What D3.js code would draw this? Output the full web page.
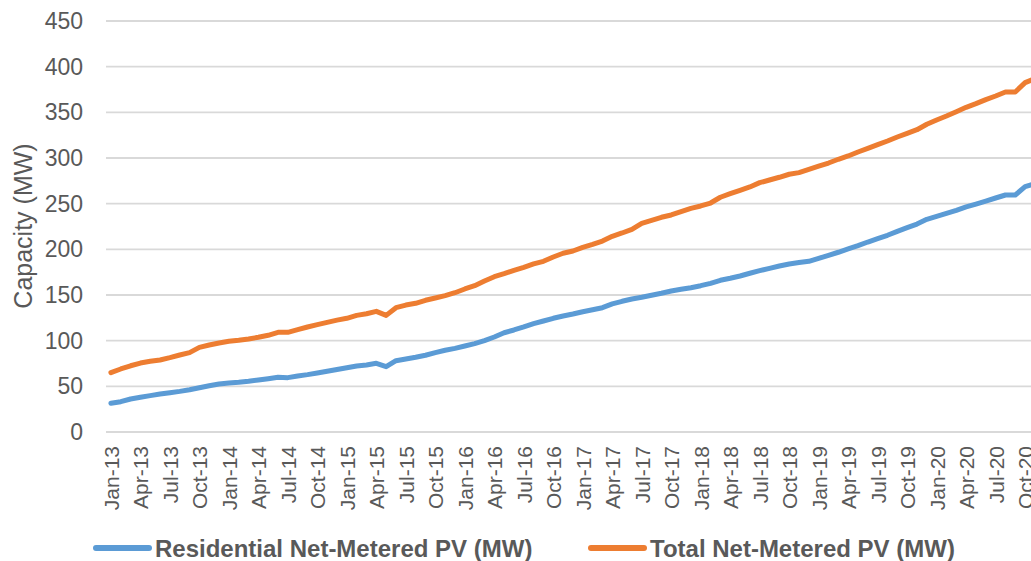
<!DOCTYPE html>
<html>
<head>
<meta charset="utf-8">
<script src="https://cdn.jsdelivr.net/npm/d3@7/dist/d3.min.js"></script>
<style>
  html, body { margin: 0; padding: 0; background: #fff; }
  svg { display: block; }
  text { font-family: "Liberation Sans", Arial, sans-serif; fill: #595959; }
</style>
</head>
<body>
<svg id="chart" width="1031" height="561"></svg>
<script>
// Month labels: Jan-13 through Nov-20
const monthNames = ["Jan", "Feb", "Mar", "Apr", "May", "Jun", "Jul", "Aug", "Sep", "Oct", "Nov", "Dec"];
const years = ["13", "14", "15", "16", "17", "18", "19", "20"];
const monthCount = 95;

// Cumulative capacity, MW
const residential = [
  31.4, 33.2, 36.1, 38.0, 39.8, 41.6, 43.0, 44.5, 46.3, 48.5, 50.7, 52.6,
  53.7, 54.4, 55.5, 56.9, 58.4, 59.9, 59.5, 61.3, 62.8, 64.6, 66.5, 68.5,
  70.4, 72.3, 73.4, 75.2, 71.5, 78.1, 79.9, 81.8, 84.0, 86.9, 89.5, 91.6,
  94.2, 96.7, 100.0, 104.0, 108.7, 111.7, 115.0, 118.6, 121.5, 124.5, 127.0, 129.2,
  131.7, 133.9, 136.1, 140.2, 143.1, 145.6, 147.5, 149.7, 151.9, 154.4, 156.2, 158.0,
  160.2, 162.8, 166.1, 168.3, 170.8, 173.8, 176.6, 179.2, 181.8, 184.0, 185.5, 186.9,
  190.2, 193.5, 196.8, 200.4, 204.0, 208.0, 211.7, 215.4, 219.7, 223.7, 227.7, 232.9,
  236.1, 239.4, 242.7, 246.4, 249.6, 252.9, 256.2, 259.5, 259.5, 268.6, 272.0
];
const total = [
  65.0, 69.0, 72.5, 75.5, 77.4, 78.8, 81.4, 84.3, 86.9, 92.7, 95.3, 97.5,
  99.3, 100.4, 101.8, 103.7, 105.9, 109.1, 109.1, 112.0, 115.0, 117.5, 120.1, 122.5,
  124.5, 127.7, 129.5, 132.1, 127.7, 136.1, 139.0, 140.9, 144.2, 146.7, 149.3, 152.5,
  156.6, 160.2, 165.3, 170.0, 173.3, 177.0, 180.3, 184.0, 186.9, 191.6, 195.7, 198.2,
  202.2, 205.5, 209.1, 214.3, 217.9, 221.9, 228.5, 231.8, 235.1, 237.6, 241.2, 244.9,
  247.5, 250.7, 257.0, 260.9, 264.6, 268.3, 273.0, 275.9, 278.9, 282.2, 284.0, 287.5,
  291.0, 294.5, 298.6, 302.2, 306.6, 310.6, 314.6, 318.6, 323.0, 327.0, 331.0, 336.9,
  341.6, 346.0, 350.7, 355.5, 359.5, 363.9, 367.9, 372.3, 372.3, 382.5, 387.0
];
const yTicks = [0, 50, 100, 150, 200, 250, 300, 350, 400, 450];

const series = [
  { name: "Residential Net-Metered PV (MW)", values: residential, color: "#5B9BD5" },
  { name: "Total Net-Metered PV (MW)", values: total, color: "#ED7D31" }
];

const months = d3.range(monthCount).map(i =>
  monthNames[i % 12] + "-" + years[Math.floor(i / 12)]);

const svg = d3.select("#chart");
const plot = { left: 106, top: 21, bottom: 432, step: 9.83 };

const x = d3.scalePoint()
  .domain(months)
  .range([plot.left, plot.left + plot.step * monthCount])
  .padding(0.5);

const y = d3.scaleLinear()
  .domain([0, 450])
  .range([plot.bottom, plot.top]);

// Horizontal gridlines
svg.append("g")
  .selectAll("line")
  .data(yTicks)
  .join("line")
  .attr("x1", plot.left)
  .attr("x2", 1031)
  .attr("y1", d => y(d))
  .attr("y2", d => y(d))
  .attr("stroke", "#D9D9D9")
  .attr("stroke-width", 1.8);

// Y axis labels
const yAxis = svg.append("g")
  .attr("transform", `translate(${plot.left - 23},0)`)
  .call(d3.axisLeft(y).tickValues(yTicks).tickSize(0).tickPadding(0));
yAxis.select(".domain").remove();
yAxis.selectAll("text")
  .attr("font-size", 23)
  .style("fill", "#595959")
  .attr("font-family", "Liberation Sans, Arial, sans-serif");

// X axis labels, every third month, rotated
const xAxis = svg.append("g")
  .attr("transform", `translate(0,${plot.bottom + 14})`)
  .call(d3.axisBottom(x)
    .tickValues(months.filter((m, i) => i % 3 === 0))
    .tickSize(0).tickPadding(0));
xAxis.select(".domain").remove();
xAxis.selectAll("text")
  .attr("font-size", 21)
  .style("fill", "#595959")
  .attr("font-family", "Liberation Sans, Arial, sans-serif")
  .attr("text-anchor", "end")
  .attr("transform", "rotate(-90)")
  .attr("x", 0)
  .attr("y", 0)
  .attr("dy", "0.36em");

// Axis title
svg.append("text")
  .attr("transform", "translate(23,226) rotate(-90)")
  .attr("text-anchor", "middle")
  .attr("dy", "0.36em")
  .attr("font-size", 25)
  .text("Capacity (MW)");

// Lines
const line = d3.line()
  .x((d, i) => x(months[i]))
  .y(d => y(d));

svg.append("g")
  .selectAll("path")
  .data(series)
  .join("path")
  .attr("d", d => line(d.values))
  .attr("fill", "none")
  .attr("stroke", d => d.color)
  .attr("stroke-width", 5)
  .attr("stroke-linejoin", "round")
  .attr("stroke-linecap", "round");

// Legend
const legendX = [96, 591];
const legend = svg.append("g")
  .selectAll("g")
  .data(series)
  .join("g")
  .attr("transform", (d, i) => `translate(${legendX[i]},548)`);
legend.append("line")
  .attr("x1", 0).attr("x2", 53)
  .attr("y1", 0).attr("y2", 0)
  .attr("stroke", d => d.color)
  .attr("stroke-width", 6)
  .attr("stroke-linecap", "round");
legend.append("text")
  .attr("x", 59)
  .attr("y", 0)
  .attr("dy", "0.36em")
  .attr("font-size", 24)
  .attr("font-weight", "bold")
  .text(d => d.name);
</script>
</body>
</html>
